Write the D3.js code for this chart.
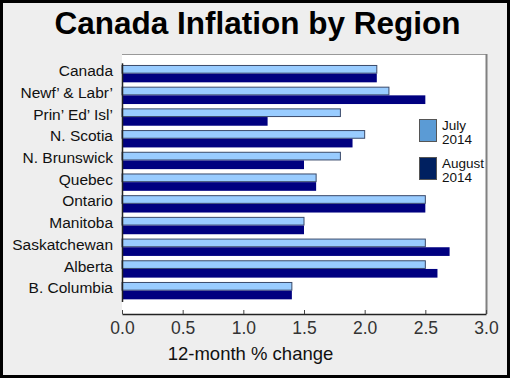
<!DOCTYPE html>
<html><head><meta charset="utf-8">
<script src="https://cdn.jsdelivr.net/npm/d3@7"></script>
<style>body{margin:0;background:#fff;}svg{display:block;font-family:Arial,"Liberation Sans",sans-serif;}</style>
</head><body>
<script>
const categories = ["Canada","Newf’ & Labr’","Prin’ Ed’ Isl’","N. Scotia","N. Brunswick","Quebec","Ontario","Manitoba","Saskatchewan","Alberta","B. Columbia"];
const july2014 = [2.1,2.2,1.8,2.0,1.8,1.6,2.5,1.5,2.5,2.5,1.4];
const august2014 = [2.1,2.5,1.2,1.9,1.5,1.6,2.5,1.5,2.7,2.6,1.4];
const seriesNames = [["July","2014"],["August","2014"]];
const xTicks = [0,0.5,1.0,1.5,2.0,2.5,3.0];

const W=510,H=378;
const FF="Arial,'Liberation Sans',sans-serif";
const svg=d3.select("body").append("svg").attr("width",W).attr("height",H);
svg.append("rect").attr("x",1.5).attr("y",1.5).attr("width",W-3).attr("height",H-3)
  .attr("fill","#eeeeee").attr("stroke","#000").attr("stroke-width",3);

svg.append("text").attr("x",257.5).attr("y",33.5).attr("text-anchor","middle")
  .attr("font-size",31.5).attr("font-weight","bold").attr("fill","#000").text("Canada Inflation by Region");

const pL=122,pR=486,pT=54,pB=314;
svg.append("rect").attr("x",pL).attr("y",pT).attr("width",pR-pL).attr("height",pB-pT).attr("fill","#fff");
svg.append("line").attr("x1",pL).attr("x2",pR).attr("y1",pT+0.5).attr("y2",pT+0.5).attr("stroke","#999");
svg.append("line").attr("x1",pR+0.5).attr("x2",pR+0.5).attr("y1",pT).attr("y2",pB).attr("stroke","#808080").attr("stroke-width",2);

const x=d3.scaleLinear().domain([0,3]).range([pL,pR]);
const y=d3.scaleBand().domain(categories).range([62.8,301.5]).paddingInner(0.2).paddingOuter(0.1);
const sub=d3.scaleBand().domain(["july","august"]).range([0,y.bandwidth()]);

const g=svg.append("g");
categories.forEach((c,i)=>{
  g.append("rect").attr("x",x(0)).attr("y",y(c)+sub("july")+0.5).attr("width",x(july2014[i])-x(0)).attr("height",sub.bandwidth()-1)
    .attr("fill","#99ccff").attr("stroke","#3a4a6a").attr("stroke-width",1);
  g.append("rect").attr("x",x(0)).attr("y",y(c)+sub("august")).attr("width",x(august2014[i])-x(0)).attr("height",sub.bandwidth())
    .attr("fill","#000080");
});

const xAxis=d3.axisBottom(x).tickValues(xTicks).tickFormat(d3.format(".1f")).tickSizeInner(-4).tickSizeOuter(0).tickPadding(8);
const ax=svg.append("g").attr("transform",`translate(0,${pB})`).call(xAxis);
ax.select(".domain").attr("stroke","#222").attr("stroke-width",1.5);
ax.selectAll(".tick line").attr("stroke","#444");
ax.selectAll(".tick text").attr("font-size",17.5).attr("fill","#333").attr("font-family",FF);

const yAxis=d3.axisLeft(y).tickSize(0).tickPadding(9);
const ay=svg.append("g").attr("transform",`translate(${pL},0)`).call(yAxis);
ay.select(".domain").attr("stroke","#222").attr("stroke-width",1.5);
ay.selectAll(".tick text").attr("font-size",15.5).attr("dy","0.17em").attr("fill","#111").attr("font-family",FF);

svg.append("text").attr("x",250.5).attr("y",360).attr("text-anchor","middle").attr("font-size",18.5).attr("fill","#111").text("12-month % change");

const legColors=["#5b9bd5","#002060"];
const legY=[119,157];
seriesNames.forEach((n,i)=>{
  svg.append("rect").attr("x",419.5).attr("y",legY[i]+0.5).attr("width",17).attr("height",22)
    .attr("fill",legColors[i]).attr("stroke","#555").attr("stroke-width",1);
  svg.append("text").attr("x",442).attr("y",legY[i]+10.5).attr("font-size",13.5).attr("fill","#111").text(n[0]);
  svg.append("text").attr("x",442).attr("y",legY[i]+24.5).attr("font-size",13.5).attr("fill","#111").text(n[1]);
});
</script>
</body></html>
